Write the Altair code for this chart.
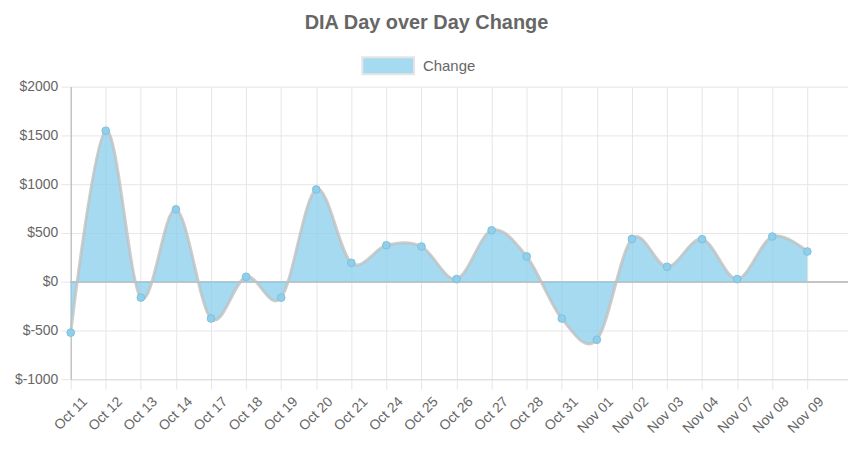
import altair as alt
import pandas as pd

labels = ["Oct 11", "Oct 12", "Oct 13", "Oct 14", "Oct 17", "Oct 18", "Oct 19",
          "Oct 20", "Oct 21", "Oct 24", "Oct 25", "Oct 26", "Oct 27", "Oct 28",
          "Oct 31", "Nov 01", "Nov 02", "Nov 03", "Nov 04", "Nov 07", "Nov 08", "Nov 09"]
values = [-522, 1548, -163, 742, -377, 51, -163,
          946, 194, 374, 361, 27, 527, 259,
          -377, -595, 439, 153, 436, 27, 463, 310]
series = ["Change"] * len(labels)
y_ticks = [-1000, -500, 0, 500, 1000, 1500, 2000]

df = pd.DataFrame({"idx": list(range(len(labels))), "label": labels,
                   "value": values, "series": series})

FONT = "Liberation Sans"
GRID = "#e6e6e6"
label_js = "[" + ",".join("'%s'" % l for l in labels) + "]"

x_enc = alt.X("idx:Q",
              scale=alt.Scale(domain=[0, 22.16], nice=False, zero=False),
              axis=alt.Axis(values=list(range(len(labels))), tickCount=40,
                            labelExpr=label_js + "[datum.value]",
                            title=None, grid=True, gridColor=GRID,
                            tickColor=GRID, tickSize=10, domainColor="#dcdcdc",
                            labelAngle=-45, labelAlign="right", labelBaseline="middle",
                            labelOffset=14, labelPadding=10, labelOverlap=False,
                            labelFont=FONT, labelFontSize=14, labelColor="#666666"))
y_enc = alt.Y("value:Q",
              scale=alt.Scale(domain=[-1000, 2000], nice=False),
              axis=alt.Axis(values=y_ticks, labelExpr="'$' + datum.value",
                            title=None, grid=True, gridColor=GRID,
                            tickColor=GRID, tickSize=10, labelPadding=3,
                            domainColor="#b0b0b0", labelOverlap=False,
                            labelFont=FONT, labelFontSize=14, labelColor="#666666"))

base = alt.Chart(df)

zero_rule = base.mark_rule(color="#c4c4c4", strokeWidth=1).encode(
    y=alt.datum(0), x=alt.value(0), x2=alt.value(781))

area = base.mark_area(interpolate="cardinal", opacity=0.75).encode(
    x=x_enc, y=y_enc, y2=alt.datum(0),
    color=alt.Color("series:N", scale=alt.Scale(range=["#87ceeb"]),
                    legend=alt.Legend(title=None, orient="none", legendX=292, legendY=-48,
                                      symbolType="M-1,-0.327H1V0.327H-1Z",
                                      symbolSize=2704, symbolOpacity=0.75,
                                      symbolStrokeColor="#dddddd", symbolStrokeWidth=2,
                                      labelFont=FONT, labelFontSize=15,
                                      labelColor="#666666", labelOffset=8)))

line = base.mark_line(interpolate="cardinal", color="#c0c0c0", strokeWidth=3,
                      opacity=0.8).encode(x="idx:Q", y="value:Q")

points = base.mark_point(filled=True, shape="circle", size=60, fill="#8fcfe9",
                         stroke="#7fc0dc", strokeWidth=1, opacity=1).encode(
    x="idx:Q", y="value:Q")

chart = alt.layer(zero_rule, area, line, points).properties(
    width=781, height=294,
    autosize=alt.AutoSizeParams(type="none"),
    padding={"left": 63, "top": 78, "right": 0, "bottom": 60},
    title=alt.TitleParams("DIA Day over Day Change", fontSize=20, fontWeight="bold",
                          color="#666666", font=FONT, anchor="middle", dx=-33, offset=6),
).configure_view(stroke=None)

chart.save("out.html", embed_options={"renderer": "svg", "actions": False})
